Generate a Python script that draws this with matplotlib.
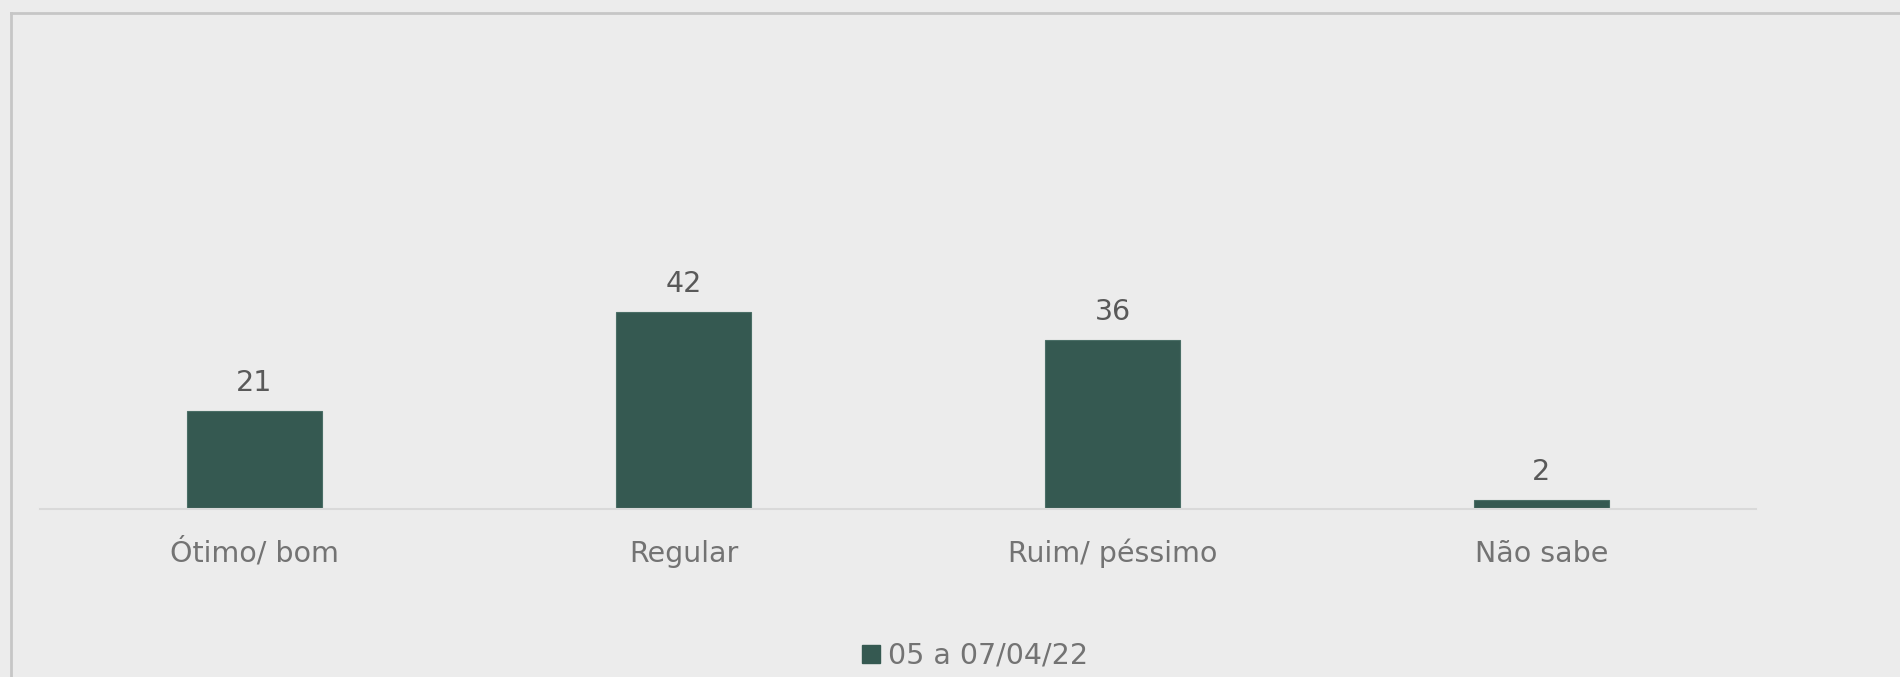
import matplotlib.pyplot as plt
from matplotlib.lines import Line2D

categories = ['Ótimo/ bom', 'Regular', 'Ruim/ péssimo', 'Não sabe']
values = [21, 42, 36, 2]
series_name = '05 a 07/04/22'

bg = '#ececec'
bar_color = '#355951'

W, H = 1900, 677
fig = plt.figure(figsize=(W / 100, H / 100), dpi=100, facecolor=bg)

# plot area in pixels: x 40..1756, baseline y 509, top ~40
left, right = 40 / W, 1756 / W
bottom, top = 1 - 509 / H, 1 - 40 / H
ax = fig.add_axes([left, bottom, right - left, top - bottom])
ax.set_facecolor(bg)

x = list(range(len(categories)))
bars = ax.bar(x, values, width=0.315, color=bar_color, edgecolor='#4a6e66', linewidth=0.8)
ax.set_xlim(-0.5, len(categories) - 0.5)
ax.set_ylim(0, 100)

for rect, v in zip(bars, values):
    ax.annotate(str(v), (rect.get_x() + rect.get_width() / 2, v),
                xytext=(0, 10), textcoords='offset points',
                ha='center', va='bottom', fontsize=20.5, color='#595959')

ax.set_xticks(x)
ax.set_xticklabels(categories, fontsize=20.5, color='#737373', va='baseline')
ax.tick_params(axis='x', length=0, pad=38)
ax.set_yticks([])
for s in ['top', 'right', 'left']:
    ax.spines[s].set_visible(False)
ax.spines['bottom'].set_color('#d9d9d9')
ax.spines['bottom'].set_linewidth(1.5)

# legend
handle = Line2D([], [], marker='s', linestyle='none', markersize=13,
                markerfacecolor=bar_color, markeredgecolor=bar_color)
fig.legend([handle], [series_name], loc='center', bbox_to_anchor=(972 / W, 1 - 656 / H),
           frameon=False, fontsize=20.5, labelcolor='#737373', handletextpad=0.1,
           handlelength=1.0, borderpad=0)

# outer border (left and top edges visible)
fig.add_artist(Line2D([10.5 / W, 10.5 / W], [0, 1 - 12.5 / H], transform=fig.transFigure,
                      color='#c6c6c6', linewidth=2))
fig.add_artist(Line2D([10.5 / W, 1], [1 - 12.5 / H, 1 - 12.5 / H], transform=fig.transFigure,
                      color='#c6c6c6', linewidth=2))

fig.savefig('out.png', dpi=100, facecolor=bg)
